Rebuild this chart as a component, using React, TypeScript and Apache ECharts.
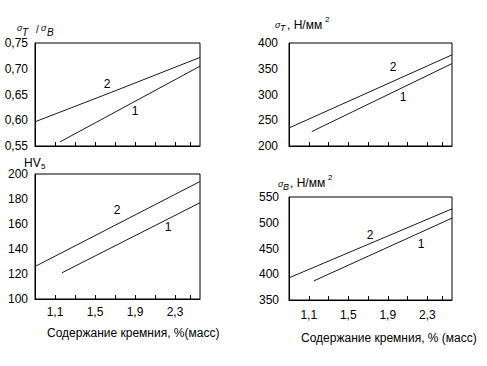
import React, { useEffect, useRef } from "react";
import * as echarts from "echarts";

// Si content ticks (x axis, %)
const xTickValues = [1.1, 1.3, 1.5, 1.7, 1.9, 2.1, 2.3, 2.45];
const xLabelValues = [1.1, 1.5, 1.9, 2.3];

// Panel 1: sigmaT / sigmaB
const ratioCurve1 = [[1.15, 0.558], [2.55, 0.705]];
const ratioCurve2 = [[0.9, 0.597], [1.7, 0.657], [2.55, 0.722]];
// Panel 2: sigmaT, N/mm2
const yieldCurve1 = [[1.13, 228], [2.55, 360]];
const yieldCurve2 = [[0.9, 235], [2.55, 377]];
// Panel 3: HV5
const hardCurve1 = [[1.17, 121], [2.55, 177]];
const hardCurve2 = [[0.9, 126], [2.55, 194]];
// Panel 4: sigmaB, N/mm2
const tensileCurve1 = [[1.15, 387], [2.55, 509]];
const tensileCurve2 = [[0.9, 393], [2.55, 527]];

// curve number labels [x, y, text]
const ratioLabels = [[1.62, 0.67, "2"], [1.9, 0.618, "1"]];
const yieldLabels = [[1.95, 353, "2"], [2.05, 295, "1"]];
const hardLabels = [[1.72, 171, "2"], [2.23, 157.6, "1"]];
const tensileLabels = [[1.72, 476, "2"], [2.24, 458, "1"]];

const FONT = "Liberation Sans, Arial, sans-serif";

export default function App() {
  const ref = useRef<HTMLDivElement>(null);
  useEffect(() => {
    if (!ref.current) return;
    const chart = echarts.init(ref.current, null, { renderer: "svg" });

    const grids = [
      { left: 35, top: 43, width: 165, height: 103 },
      { left: 289, top: 43, width: 163, height: 103 },
      { left: 35, top: 174, width: 165, height: 125 },
      { left: 289, top: 197, width: 163, height: 103 },
    ];
    const yRanges = [
      { min: 0.55, max: 0.75, interval: 0.05, fmt: (v: number) => v.toFixed(2).replace(".", ",") },
      { min: 200, max: 400, interval: 50, fmt: (v: number) => String(v) },
      { min: 100, max: 200, interval: 20, fmt: (v: number) => String(v) },
      { min: 350, max: 550, interval: 50, fmt: (v: number) => String(v) },
    ];
    const yMargins = [7, 11, 7, 10];
    const xLabelShow = [false, false, true, true];
    const xLabelMargins = [7, 7, 7, 9];

    const xAxes = grids.map((_, i) => ({
      type: "value",
      gridIndex: i,
      min: 0.9,
      max: 2.55,
      axisLine: { show: true, lineStyle: { color: "#000", width: 1 } },
      axisTick: {
        show: true,
        inside: true,
        length: 4,
        customValues: xTickValues,
        lineStyle: { color: "#000" },
      },
      axisLabel: {
        show: xLabelShow[i],
        customValues: xLabelValues,
        margin: xLabelMargins[i],
        color: "#000",
        fontFamily: FONT,
        fontSize: 12,
        formatter: (v: number) => v.toFixed(1).replace(".", ","),
      },
      splitLine: { show: false },
    }));

    const yAxes = grids.map((_, i) => ({
      type: "value",
      gridIndex: i,
      min: yRanges[i].min,
      max: yRanges[i].max,
      interval: yRanges[i].interval,
      axisLine: { show: true, lineStyle: { color: "#000", width: 1 } },
      axisTick: { show: false },
      axisLabel: {
        color: "#000",
        fontFamily: FONT,
        fontSize: 12,
        margin: yMargins[i],
        formatter: yRanges[i].fmt,
      },
      splitLine: { show: false },
    }));

    const curves = [
      [ratioCurve1, ratioCurve2],
      [yieldCurve1, yieldCurve2],
      [hardCurve1, hardCurve2],
      [tensileCurve1, tensileCurve2],
    ];
    const labels = [ratioLabels, yieldLabels, hardLabels, tensileLabels];

    const series: any[] = [];
    curves.forEach((pair, i) => {
      pair.forEach((data) => {
        series.push({
          type: "line",
          xAxisIndex: i,
          yAxisIndex: i,
          data,
          showSymbol: false,
          smooth: false,
          silent: true,
          color: "#1a1a1a",
          lineStyle: { color: "#1a1a1a", width: 1 },
        });
      });
    });

    const txt = (x: number, y: number, text: string, size: number, italic = false, extra: any = {}) => ({
      type: "text",
      x,
      y,
      style: {
        text,
        fill: "#000",
        font: `${italic ? "italic " : ""}${size}px ${FONT}`,
        textVerticalAlign: "middle",
        ...extra,
      },
      silent: true,
    });

    const graphic: any[] = [
      // panel 1 title: sigma_T / sigma_B
      txt(17, 28, "σ", 9, true),
      txt(22, 32, "T", 10, true),
      txt(36, 29, "/", 10, false),
      txt(41, 28, "σ", 9, true),
      txt(47, 32, "B", 10, true),
      // panel 2 title
      txt(275, 25, "σ", 9, true),
      txt(280, 28, "T", 9, true),
      txt(287, 25, ", Н/мм", 12, false),
      txt(325, 19, "2", 8, false),
      // panel 3 title
      txt(24, 163, "HV", 12, false),
      txt(41, 166, "5", 8, false),
      // panel 4 title
      txt(278, 184, "σ", 9, true),
      txt(283, 187, "B", 9, true),
      txt(290, 183, ", Н/мм", 12, false),
      txt(328, 177, "2", 8, false),
      // x axis names
      txt(47, 333, "Содержание кремния, %(масс)", 12, false),
      txt(301, 338, "Содержание кремния, % (масс)", 12, false),
    ];

    const base = {
      animation: false,
      backgroundColor: "#fff",
      grid: grids.map((g) => ({ ...g, show: true, borderColor: "#000", borderWidth: 1, backgroundColor: "transparent" })),
      xAxis: xAxes,
      yAxis: yAxes,
      series,
    };
    chart.setOption(base);

    // curve numbers placed through the axes' scales
    labels.forEach((list, i) => {
      list.forEach((l) => {
        const p = chart.convertToPixel({ gridIndex: i } as any, [l[0] as number, l[1] as number]) as number[];
        graphic.push(txt(Math.round(p[0]), Math.round(p[1]), l[2] as string, 12, false, { textAlign: "center" }));
      });
    });
    chart.setOption({ graphic });

    return () => chart.dispose();
  }, []);

  return (
    <div
      ref={ref}
      style={{ position: "fixed", left: 0, top: 0, width: 487, height: 366, background: "#fff" }}
    />
  );
}
